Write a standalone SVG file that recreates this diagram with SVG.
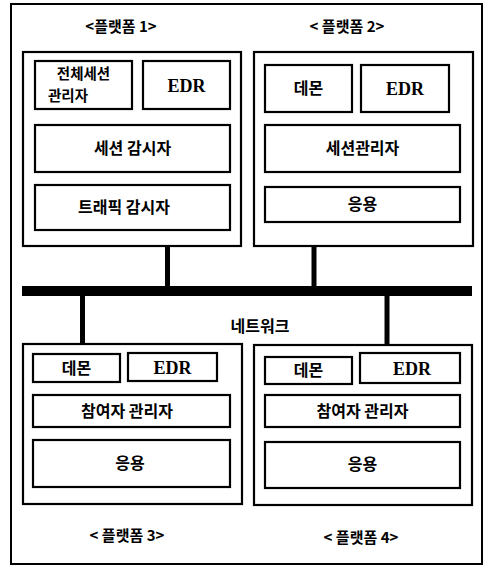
<svg xmlns="http://www.w3.org/2000/svg" width="484" height="565" viewBox="0 0 484 565">
<style>
.frame{fill:none;stroke:#000;stroke-width:2}
.plat{fill:#fff;stroke:#000;stroke-width:2.2}
.box{fill:#fff;stroke:#000;stroke-width:2.2}
.ko{font-family:"Noto Sans CJK KR","Noto Sans",sans-serif;font-weight:700;font-size:16px;fill:#000;text-anchor:middle}
.ko2{font-family:"Noto Sans CJK KR","Noto Sans",sans-serif;font-weight:700;font-size:14.5px;fill:#000;text-anchor:middle}
.en{font-family:"Liberation Serif",serif;font-weight:700;font-size:18px;fill:#000;text-anchor:middle}
.lab{font-family:"Noto Sans CJK KR","Noto Sans",sans-serif;font-weight:700;font-size:15px;fill:#000;text-anchor:middle}
.wire{stroke:#000;fill:none}
</style>
<rect width="484" height="565" fill="#fff"/>
<rect class="frame" x="11" y="4" width="471" height="560"/>

<g id="connectors">
  <rect x="22" y="286" width="450" height="10" fill="#000"/>
  <line class="wire" x1="167.5" y1="246" x2="167.5" y2="287" stroke-width="5"/>
  <line class="wire" x1="314" y1="246" x2="314" y2="287" stroke-width="5"/>
  <line class="wire" x1="82.5" y1="295" x2="82.5" y2="345" stroke-width="5"/>
  <line class="wire" x1="387" y1="295" x2="387" y2="345" stroke-width="5"/>
</g>

<g id="network-label">
  <text class="ko" x="260" y="332">네트워크</text>
</g>

<g id="platform1">
  <text class="lab" x="121" y="32">&lt;플랫폼 1&gt;</text>
  <rect class="plat" x="23" y="52" width="218" height="194"/>
  <g id="p1-total-session">
    <rect class="box" x="35" y="61" width="97" height="48"/>
    <text class="ko2" x="83.5" y="79">전체세션</text>
    <text class="ko2" x="68" y="101">관리자</text>
  </g>
  <g id="p1-edr">
    <rect class="box" x="143" y="61" width="87" height="48"/>
    <text class="en" x="186.5" y="92">EDR</text>
  </g>
  <g id="p1-session-monitor">
    <rect class="box" x="35" y="125" width="195" height="47"/>
    <text class="ko" x="132.5" y="154">세션 감시자</text>
  </g>
  <g id="p1-traffic-monitor">
    <rect class="box" x="35" y="185" width="195" height="45"/>
    <text class="ko" x="124" y="213">트래픽 감시자</text>
  </g>
</g>

<g id="platform2">
  <text class="lab" x="347" y="32">&lt; 플랫폼 2&gt;</text>
  <rect class="plat" x="254" y="52" width="219" height="194"/>
  <g id="p2-daemon">
    <rect class="box" x="265" y="65" width="87" height="47"/>
    <text class="ko" x="308.5" y="94">데몬</text>
  </g>
  <g id="p2-edr">
    <rect class="box" x="361" y="65" width="88" height="47"/>
    <text class="en" x="405" y="95">EDR</text>
  </g>
  <g id="p2-session-manager">
    <rect class="box" x="265" y="125" width="195" height="47"/>
    <text class="ko" x="362.5" y="154">세션관리자</text>
  </g>
  <g id="p2-app">
    <rect class="box" x="265" y="187" width="195" height="35"/>
    <text class="ko" x="362.5" y="210">응용</text>
  </g>
</g>

<g id="platform3">
  <rect class="plat" x="23" y="344" width="219" height="160"/>
  <g id="p3-daemon">
    <rect class="box" x="33" y="354" width="87" height="28"/>
    <text class="ko" x="76.5" y="374">데몬</text>
  </g>
  <g id="p3-edr">
    <rect class="box" x="128" y="353" width="89" height="28"/>
    <text class="en" x="172.5" y="374">EDR</text>
  </g>
  <g id="p3-participant">
    <rect class="box" x="33" y="395" width="197" height="32"/>
    <text class="ko" x="127" y="417">참여자 관리자</text>
  </g>
  <g id="p3-app">
    <rect class="box" x="33" y="440" width="197" height="47"/>
    <text class="ko" x="130" y="469">응용</text>
  </g>
  <text class="lab" x="127" y="541">&lt; 플랫폼 3&gt;</text>
</g>

<g id="platform4">
  <rect class="plat" x="254" y="345" width="218" height="160"/>
  <g id="p4-daemon">
    <rect class="box" x="265" y="357" width="87" height="27"/>
    <text class="ko" x="308.5" y="376">데몬</text>
  </g>
  <g id="p4-edr">
    <rect class="box" x="360" y="353" width="100" height="30"/>
    <text class="en" x="412" y="375">EDR</text>
  </g>
  <g id="p4-participant">
    <rect class="box" x="265" y="395" width="195" height="32"/>
    <text class="ko" x="362.5" y="417">참여자 관리자</text>
  </g>
  <g id="p4-app">
    <rect class="box" x="265" y="442" width="195" height="46"/>
    <text class="ko" x="362.5" y="470">응용</text>
  </g>
  <text class="lab" x="361" y="543">&lt; 플랫폼 4&gt;</text>
</g>
</svg>
